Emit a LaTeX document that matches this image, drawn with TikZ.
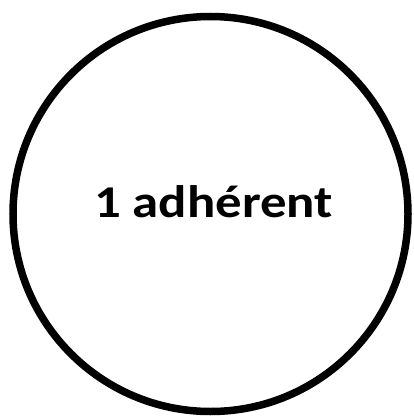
\documentclass[tikz,border=0pt]{standalone}
\usepackage{fontspec}
\setmainfont{Carlito}
\newfontfamily\widefont[FakeStretch=1.16]{Carlito}
\usetikzlibrary{positioning}

\begin{document}
\begin{tikzpicture}[x=1pt,y=-1pt]
\tikzset{
  member/.style={circle,draw,line width=7.5pt,minimum size=395pt,inner sep=0pt},
  label/.style={font=\widefont\fontsize{45.5}{54}\selectfont\bfseries}
}
\useasboundingbox (0,0) rectangle (413,417);
\node[member] (n_circle) at (210.5,214) {};
\node[label,anchor=base] (n_text) at (213.5,217.5) {1 adhérent};
\end{tikzpicture}
\end{document}
